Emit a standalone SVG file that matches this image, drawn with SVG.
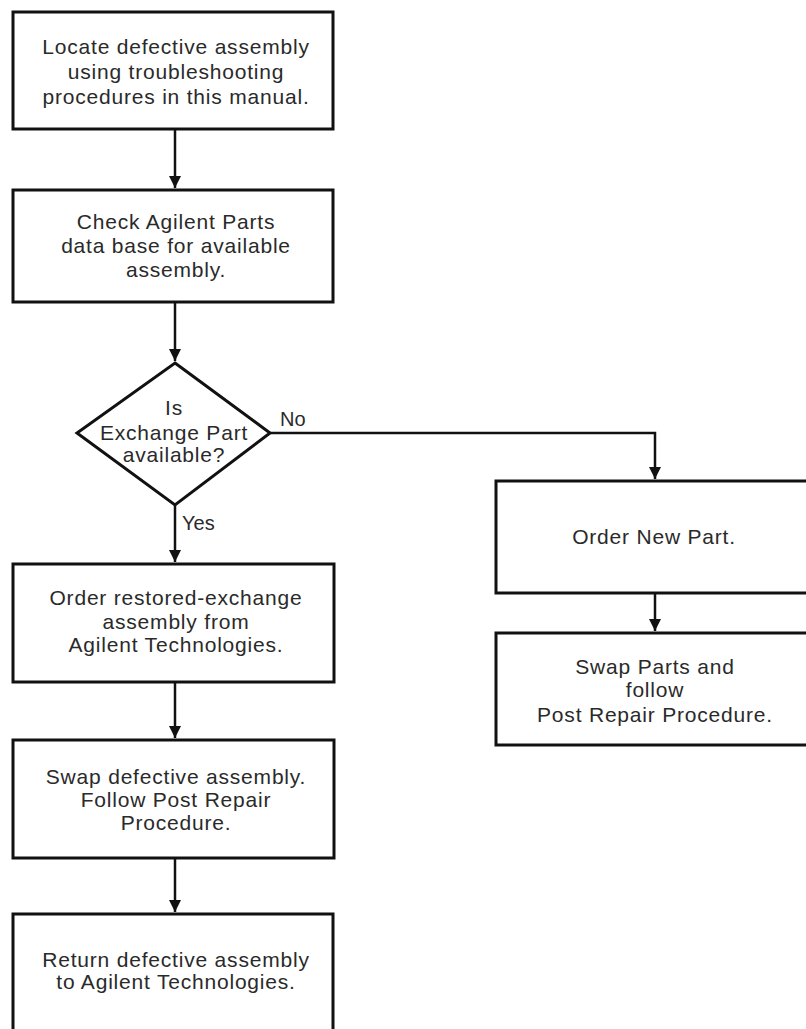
<svg xmlns="http://www.w3.org/2000/svg" width="806" height="1029" viewBox="0 0 806 1029">
  <style>
    .box { fill: #ffffff; stroke: #111111; stroke-width: 3; }
    .wire { fill: none; stroke: #111111; stroke-width: 2.5; }
    .txt { font-family: "Liberation Sans", Arial, sans-serif; font-size: 21px; letter-spacing: 0.8px; fill: #2a2a2a; text-anchor: middle; }
    .lbl { font-family: "Liberation Sans", Arial, sans-serif; font-size: 20px; fill: #2a2a2a; }
  </style>
  <defs>
    <marker id="arrow" viewBox="0 0 12 12" refX="12" refY="6" markerWidth="12" markerHeight="12" markerUnits="userSpaceOnUse" orient="auto">
      <path d="M0,0 L12,6 L0,12 Z" fill="#111111"/>
    </marker>
  </defs>

  <rect width="806" height="1029" fill="#ffffff"/>

  <!-- connectors -->
  <g id="connectors">
    <line class="wire" x1="175" y1="129" x2="175" y2="188" marker-end="url(#arrow)"/>
    <line class="wire" x1="175" y1="302" x2="175" y2="361" marker-end="url(#arrow)"/>
    <line class="wire" x1="175" y1="505" x2="175" y2="562" marker-end="url(#arrow)"/>
    <line class="wire" x1="175" y1="682" x2="175" y2="738" marker-end="url(#arrow)"/>
    <line class="wire" x1="175" y1="858" x2="175" y2="912" marker-end="url(#arrow)"/>
    <polyline class="wire" points="270,433 655,433 655,479" marker-end="url(#arrow)"/>
    <line class="wire" x1="655" y1="593" x2="655" y2="631" marker-end="url(#arrow)"/>
    <text class="lbl" x="182" y="530">Yes</text>
    <text class="lbl" x="280" y="426">No</text>
  </g>

  <g id="locate">
    <rect class="box" x="13" y="12" width="320" height="117"/>
    <text class="txt" x="176" y="54">Locate defective assembly</text>
    <text class="txt" x="176" y="79">using troubleshooting</text>
    <text class="txt" x="176" y="104">procedures in this manual.</text>
  </g>

  <g id="check">
    <rect class="box" x="13" y="190" width="320" height="112"/>
    <text class="txt" x="176" y="229">Check Agilent Parts</text>
    <text class="txt" x="176" y="253">data base for available</text>
    <text class="txt" x="176" y="277">assembly.</text>
  </g>

  <g id="decision">
    <polygon class="box" points="175,363 270,433 175,505 77,433"/>
    <text class="txt" x="174" y="415">Is</text>
    <text class="txt" x="174" y="440">Exchange Part</text>
    <text class="txt" x="174" y="462">available?</text>
  </g>

  <g id="order-exchange">
    <rect class="box" x="13" y="564" width="321" height="118"/>
    <text class="txt" x="176" y="605">Order restored-exchange</text>
    <text class="txt" x="176" y="629">assembly from</text>
    <text class="txt" x="176" y="652">Agilent Technologies.</text>
  </g>

  <g id="swap-defective">
    <rect class="box" x="13" y="740" width="321" height="118"/>
    <text class="txt" x="176" y="784">Swap defective assembly.</text>
    <text class="txt" x="176" y="807">Follow Post Repair</text>
    <text class="txt" x="176" y="830">Procedure.</text>
  </g>

  <g id="return">
    <rect class="box" x="13" y="914" width="320" height="140"/>
    <text class="txt" x="176" y="967">Return defective assembly</text>
    <text class="txt" x="176" y="989">to Agilent Technologies.</text>
  </g>

  <g id="order-new">
    <rect class="box" x="496" y="481" width="330" height="112"/>
    <text class="txt" x="654" y="544">Order New Part.</text>
  </g>

  <g id="swap-parts">
    <rect class="box" x="496" y="633" width="330" height="112"/>
    <text class="txt" x="655" y="674">Swap Parts and</text>
    <text class="txt" x="655" y="697">follow</text>
    <text class="txt" x="655" y="722">Post Repair Procedure.</text>
  </g>
</svg>
